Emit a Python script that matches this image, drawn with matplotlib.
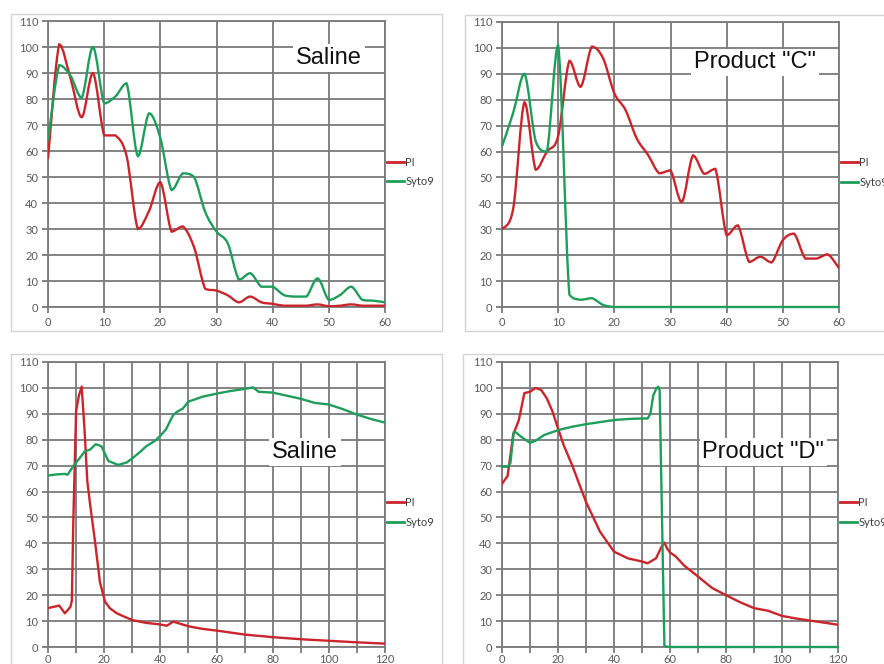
import numpy as np
import matplotlib
matplotlib.use("Agg")
import matplotlib.pyplot as plt
from matplotlib.path import Path
from matplotlib.patches import PathPatch, Rectangle
from matplotlib.lines import Line2D

# ---- data ----
# top left: Saline, 0-60
t_top = [0, 2, 4, 6, 8, 10, 12, 14, 16, 18, 20, 22, 24, 26, 28, 30,
         32, 34, 36, 38, 40, 42, 44, 46, 48, 50, 52, 54, 56, 58, 60]
saline1_pi = [57, 101, 88, 73, 90, 66, 66, 58, 30, 37, 48, 29, 31, 23, 7, 6.3,
              4.5, 1.8, 4, 1.8, 1.2, 0.5, 0.5, 0.5, 1, 0.3, 0.5, 1, 0.5, 0.5, 0.5]
saline1_syto = [64, 93, 89, 80.5, 100, 78.3, 81, 86, 58, 74.5, 65, 45, 51.4, 50, 36.5, 29,
                24.5, 10.5, 13, 7.8, 7.8, 4.6, 4, 4, 11, 2.7, 4.6, 7.8, 2.7, 2.4, 1.8]

# top right: Product "C", 0-60
prodc_pi = [30, 38, 79, 53, 60, 66, 95, 85, 100.5, 96, 82.5, 76, 65, 58.7, 51.6, 52.7,
            40.5, 58.5, 51.4, 53.3, 27.7, 31.5, 17.4, 19.4, 17.2, 25.8, 28.3, 18.7, 18.7, 20.3, 15]
prodc_syto = [62, 75, 90, 64, 60, 101, 4.8, 2.8, 3.4, 0.8, 0, 0, 0, 0, 0, 0,
              0, 0, 0, 0, 0, 0, 0, 0, 0, 0, 0, 0, 0, 0, 0]

# bottom left: Saline, 0-120
saline2_t_pi = [0, 2, 4, 6, 8, 8.5, 9, 10, 11, 12, 13, 14, 15, 16.7, 18.5, 20.3,
                22, 24.5, 27, 30, 35, 40, 42.3, 44.6, 47, 50, 55, 61, 70, 80, 90, 100, 110, 120]
saline2_pi = [15, 15.5, 16, 13, 15.5, 18, 48, 91, 97, 100.5, 84, 64, 55, 41, 25, 17.5,
              15, 13, 11.8, 10.4, 9.3, 8.7, 8.2, 9.8, 9, 8, 7, 6.2, 4.8, 3.8, 3, 2.4, 1.8, 1.3]
saline2_t_syto = [0, 3, 6, 7, 9.3, 11, 13, 15, 17, 19, 21.5, 25, 28, 30, 33, 35, 38, 40, 42,
                  44.6, 46, 48, 50, 55, 61, 65, 70, 73, 75, 80, 85, 90, 95, 100, 105, 110, 115, 120]
saline2_syto = [66.2, 66.6, 66.8, 66.5, 70.3, 72.5, 75.4, 76.2, 78.3, 77.5, 71.8, 70.3, 71.2, 72.8,
                75.5, 77.5, 79.5, 81.5, 84, 89.6, 90.8, 92, 94.7, 96.6, 98, 98.8, 99.6, 100.2,
                98.5, 98.2, 97, 95.8, 94.2, 93.6, 91.8, 89.7, 88, 86.6]

# bottom right: Product "D", 0-120
prodd_t_pi = [0, 2, 4, 6, 8, 10, 12, 14, 16, 18, 20, 22, 25, 30, 35, 40, 45, 50, 52,
              55, 57, 58, 59, 60, 62, 65, 70, 75, 80, 85, 90, 95, 100, 105, 110, 115, 120]
prodd_pi = [63, 66, 82, 87.5, 98, 98.5, 100, 99.2, 96, 91, 84.4, 78, 70.3, 56, 44.5, 36.8,
            34.2, 33, 32.3, 34.2, 38.7, 40.3, 38, 36.5, 35, 31.5, 27.2, 22.8, 20, 17.3, 15,
            14, 12, 11, 10.2, 9.4, 8.6]
prodd_t_syto = [0, 2, 3, 4.2, 5, 7, 10, 12, 15, 20, 25, 30, 35, 40, 45, 50, 52, 53, 54,
                55, 55.8, 56.3, 58, 60, 120]
prodd_syto = [69.6, 69.6, 71, 83, 82.8, 81, 78.8, 79.6, 81.8, 83.7, 85, 86, 86.8, 87.6, 88,
              88.2, 88.2, 90, 97, 99.5, 100.5, 99, 0.3, 0, 0]

RED = "#c9252b"
GREEN = "#1f9e5b"
GRID = "#7a7a7a"
W, H = 884, 664


def smooth_path(x, y):
    # Excel style smoothed line: cubic bezier through every point,
    # control points clamped so the curve does not overshoot
    pts = np.column_stack([x, y]).astype(float)
    n = len(pts)
    verts = [pts[0]]
    codes = [Path.MOVETO]
    for i in range(n - 1):
        p0 = pts[i - 1] if i > 0 else pts[i]
        p1 = pts[i]
        p2 = pts[i + 1]
        p3 = pts[i + 2] if i + 2 < n else pts[i + 1]
        c1 = p1 + (p2 - p0) / 6
        c2 = p2 - (p3 - p1) / 6
        lo, hi = min(p1[1], p2[1]), max(p1[1], p2[1])
        c1[1] = np.clip(c1[1], lo, hi)
        c2[1] = np.clip(c2[1], lo, hi)
        verts += [c1, c2, p2]
        codes += [Path.CURVE4] * 3
    return Path(verts, codes)


def make_axes(fig, left, top, right, bottom, xmax, xstep, xlabstep, xpad=3):
    ax = fig.add_axes([left / W, 1 - bottom / H, (right - left) / W, (bottom - top) / H])
    ax.set_xlim(0, xmax)
    ax.set_ylim(0, 110)
    ax.set_xticks(np.arange(0, xmax + 1, xstep))
    ax.set_xticklabels([str(v) if v % xlabstep == 0 else "" for v in range(0, xmax + 1, xstep)])
    ax.set_yticks(np.arange(0, 111, 10))
    ax.grid(True, color=GRID, lw=1.3)
    ax.set_axisbelow(True)
    for s in ax.spines.values():
        s.set_color(GRID)
        s.set_linewidth(1.3)
    ax.tick_params(direction="out", length=4, width=1.3, color=GRID,
                   labelsize=8, labelcolor="#595959", pad=3)
    ax.tick_params(axis="x", pad=xpad)
    return ax


def add_legend(ax):
    handles = [Line2D([], [], color=RED, lw=2), Line2D([], [], color=GREEN, lw=2)]
    leg = ax.legend(handles, ["PI", "Syto9"], loc="center left", bbox_to_anchor=(1.006, 0.472),
                    frameon=False, borderpad=0, borderaxespad=0, handlelength=1.5,
                    handletextpad=0.15, labelspacing=0.75, fontsize=8)
    for t in leg.get_texts():
        t.set_color("#404040")


def add_title(ax, text, x, y):
    ax.text(x, y, text, transform=ax.transAxes, ha="center", va="center", fontsize=17,
            family="Liberation Sans", color="#111111", zorder=5,
            bbox=dict(facecolor="white", edgecolor="none", pad=2))


plt.rcParams["font.family"] = ["Lato", "DejaVu Sans"]
fig = plt.figure(figsize=(W / 100, H / 100), dpi=100)

# chart frames
for x0, y0, x1, y1 in [(11, 14, 442, 331), (465, 15, 900, 331),
                       (11, 354, 442, 700), (463, 354, 900, 700)]:
    fig.add_artist(Rectangle((x0 / W, 1 - y1 / H), (x1 - x0) / W, (y1 - y0) / H,
                             transform=fig.transFigure, fill=False, ec="#d4d4d4", lw=1))

# top left
ax1 = make_axes(fig, 48, 21, 385, 307, 60, 10, 10)
ax1.add_patch(PathPatch(smooth_path(t_top, saline1_pi), fc="none", ec=RED, lw=1.7, zorder=3))
ax1.add_patch(PathPatch(smooth_path(t_top, saline1_syto), fc="none", ec=GREEN, lw=1.7, zorder=3))
add_title(ax1, "Saline", 0.834, 0.871)
add_legend(ax1)

# top right
ax2 = make_axes(fig, 502, 22, 839, 307, 60, 10, 10)
ax2.add_patch(PathPatch(smooth_path(t_top, prodc_pi), fc="none", ec=RED, lw=1.7, zorder=3))
ax2.add_patch(PathPatch(smooth_path(t_top, prodc_syto), fc="none", ec=GREEN, lw=1.7,
                        zorder=3, clip_on=False))
add_title(ax2, 'Product "C"', 0.751, 0.858)
add_legend(ax2)

# bottom left
ax3 = make_axes(fig, 48, 362, 385, 647, 120, 10, 20, xpad=1)
ax3.plot(saline2_t_pi, saline2_pi, color=RED, lw=1.7, zorder=3)
ax3.plot(saline2_t_syto, saline2_syto, color=GREEN, lw=1.7, zorder=3)
add_title(ax3, "Saline", 0.763, 0.684)
add_legend(ax3)

# bottom right
ax4 = make_axes(fig, 502, 362, 838, 647, 120, 10, 20, xpad=1)
ax4.plot(prodd_t_pi, prodd_pi, color=RED, lw=1.7, zorder=3)
ax4.plot(prodd_t_syto, prodd_syto, color=GREEN, lw=1.7, zorder=3, clip_on=False)
add_title(ax4, 'Product "D"', 0.778, 0.684)
add_legend(ax4)

fig.savefig("out.png", dpi=100)
